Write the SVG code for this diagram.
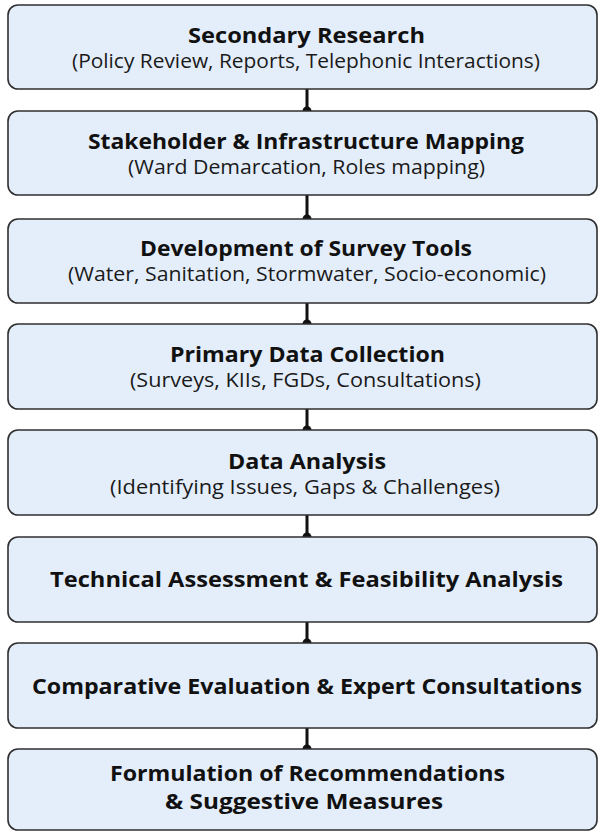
<svg xmlns="http://www.w3.org/2000/svg" width="600" height="832" viewBox="0 0 600 832">
  <style>
    .box { fill: #e4eefa; stroke: #2f2f2f; stroke-width: 1.6; }
    .title { font-family: "Open Sans", "DejaVu Sans", sans-serif; font-weight: 700; font-size: 22px; fill: #111; text-anchor: middle; }
    .sub { font-family: "Open Sans", "DejaVu Sans", sans-serif; font-weight: 400; font-size: 19.5px; fill: #1a1a1a; text-anchor: middle; }
    .link { stroke: #111; stroke-width: 3; fill: none; }
    .dot { fill: #111; }
  </style>
  <rect width="600" height="832" fill="#ffffff"/>

  <g id="connectors">
    <line class="link" x1="307" y1="86" x2="307" y2="111"/><circle class="dot" cx="307" cy="111" r="4.5"/>
    <line class="link" x1="307" y1="192" x2="307" y2="219"/><circle class="dot" cx="307" cy="219" r="4.5"/>
    <line class="link" x1="307" y1="300" x2="307" y2="324"/><circle class="dot" cx="307" cy="324" r="4.5"/>
    <line class="link" x1="307" y1="406" x2="307" y2="430"/><circle class="dot" cx="307" cy="430" r="4.5"/>
    <line class="link" x1="307" y1="512" x2="307" y2="537"/><circle class="dot" cx="307" cy="537" r="4.5"/>
    <line class="link" x1="307" y1="619" x2="307" y2="643"/><circle class="dot" cx="307" cy="643" r="4.5"/>
    <line class="link" x1="307" y1="725" x2="307" y2="749"/><circle class="dot" cx="307" cy="749" r="4.5"/>
  </g>

  <g id="secondary-research">
    <rect class="box" x="8" y="5" width="589" height="84" rx="10"/>
    <text class="title" x="306.5" y="43" textLength="237" lengthAdjust="spacingAndGlyphs">Secondary Research</text>
    <text class="sub" x="306" y="68" textLength="468" lengthAdjust="spacingAndGlyphs">(Policy Review, Reports, Telephonic Interactions)</text>
  </g>

  <g id="stakeholder-mapping">
    <rect class="box" x="8" y="111" width="589" height="84" rx="10"/>
    <text class="title" x="306" y="149" textLength="436" lengthAdjust="spacingAndGlyphs">Stakeholder &amp; Infrastructure Mapping</text>
    <text class="sub" x="306.5" y="174" textLength="357" lengthAdjust="spacingAndGlyphs">(Ward Demarcation, Roles mapping)</text>
  </g>

  <g id="survey-tools">
    <rect class="box" x="8" y="219" width="589" height="84" rx="10"/>
    <text class="title" x="306" y="256" textLength="332" lengthAdjust="spacingAndGlyphs">Development of Survey Tools</text>
    <text class="sub" x="307" y="281" textLength="478" lengthAdjust="spacingAndGlyphs">(Water, Sanitation, Stormwater, Socio-economic)</text>
  </g>

  <g id="primary-data">
    <rect class="box" x="8" y="324" width="589" height="85" rx="10"/>
    <text class="title" x="307.5" y="362" textLength="275" lengthAdjust="spacingAndGlyphs">Primary Data Collection</text>
    <text class="sub" x="305.5" y="387" textLength="351" lengthAdjust="spacingAndGlyphs">(Surveys, KIIs, FGDs, Consultations)</text>
  </g>

  <g id="data-analysis">
    <rect class="box" x="8" y="430" width="589" height="85" rx="10"/>
    <text class="title" x="307" y="469" textLength="158" lengthAdjust="spacingAndGlyphs">Data Analysis</text>
    <text class="sub" x="305" y="494" textLength="390" lengthAdjust="spacingAndGlyphs">(Identifying Issues, Gaps &amp; Challenges)</text>
  </g>

  <g id="technical-assessment">
    <rect class="box" x="8" y="537" width="589" height="85" rx="10"/>
    <text class="title" x="306.5" y="587" textLength="513" lengthAdjust="spacingAndGlyphs">Technical Assessment &amp; Feasibility Analysis</text>
  </g>

  <g id="comparative-evaluation">
    <rect class="box" x="8" y="643" width="589" height="85" rx="10"/>
    <text class="title" x="307" y="694" textLength="550" lengthAdjust="spacingAndGlyphs">Comparative Evaluation &amp; Expert Consultations</text>
  </g>

  <g id="recommendations">
    <rect class="box" x="8" y="749" width="589" height="81" rx="10"/>
    <text class="title" x="307.5" y="781" font-size="21" textLength="395" lengthAdjust="spacingAndGlyphs">Formulation of Recommendations</text>
    <text class="title" x="304" y="809" font-size="21" textLength="278" lengthAdjust="spacingAndGlyphs">&amp; Suggestive Measures</text>
  </g>
</svg>
